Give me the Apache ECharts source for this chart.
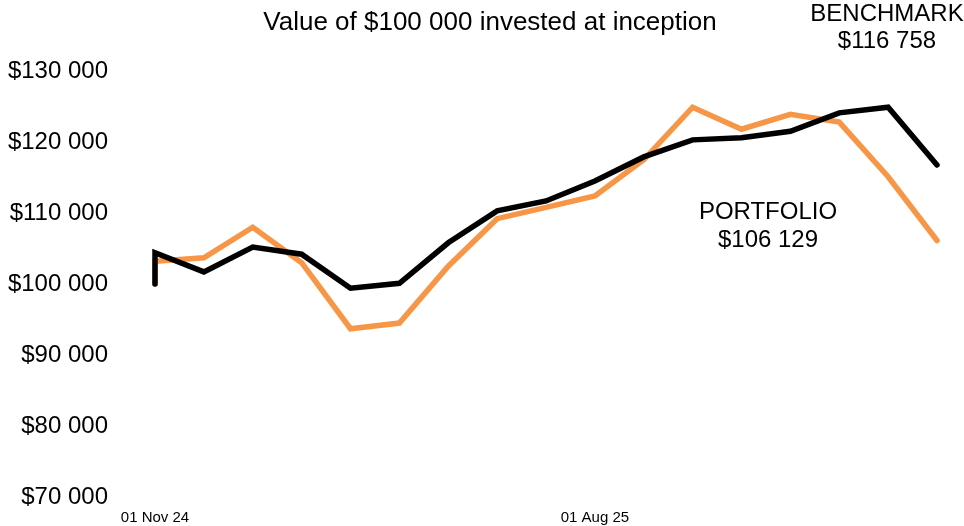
<!DOCTYPE html>
<html>
<head>
<meta charset="utf-8">
<script src="https://cdn.jsdelivr.net/npm/echarts@6/dist/echarts.min.js"></script>
<style>html,body{margin:0;padding:0;background:#fff;}#c{width:964px;height:526px;}</style>
</head>
<body>
<div id="c"></div>
<script>
// Month-start dates (index 0 = 01 Nov 24 ... index 16 = 01 Mar 26)
var months = ['01 Nov 24','01 Dec 24','01 Jan 25','01 Feb 25','01 Mar 25','01 Apr 25','01 May 25','01 Jun 25','01 Jul 25','01 Aug 25','01 Sep 25','01 Oct 25','01 Nov 25','01 Dec 25','01 Jan 26','01 Feb 26','01 Mar 26'];
var tickLabelIndex = [0, 9];
var inceptionValue = 100000;
var portfolio = [103200,103700,108000,103000,93700,94500,102500,109200,110800,112400,117500,124900,121800,123900,122800,115100,106129];
var benchmark = [104400,101700,105200,104200,99400,100100,105800,110300,111700,114500,117900,120300,120600,121500,124100,124900,116758];
var yTicks = [70000, 80000, 90000, 100000, 110000, 120000, 130000];

function fmtMoney(v){
  var s = String(Math.round(v));
  return '$' + s.replace(/\B(?=(\d{3})+(?!\d))/g, ' ');
}
function toPts(arr){
  var pts = [[0, inceptionValue]];
  for (var i = 0; i < arr.length; i++) pts.push([i, arr[i]]);
  return pts;
}
var font = 'Liberation Sans, Arial, sans-serif';
var chart = echarts.init(document.getElementById('c'), null, {renderer:'canvas'});
chart.setOption({
  animation: false,
  backgroundColor: '#ffffff',
  grid: {left: 155, right: 27, top: 71, bottom: 29, containLabel: false},
  xAxis: {
    type: 'value', min: 0, max: months.length - 1,
    axisLine: {show: false}, axisTick: {show: false}, splitLine: {show: false},
    axisLabel: {
      customValues: tickLabelIndex,
      formatter: function(v){ return months[v]; },
      fontFamily: font, fontSize: 15, color: '#000', margin: 13
    }
  },
  yAxis: {
    type: 'value', min: yTicks[0], max: yTicks[yTicks.length-1], interval: 10000,
    axisLine: {show: false}, axisTick: {show: false}, splitLine: {show: false},
    axisLabel: {formatter: fmtMoney, fontFamily: font, fontSize: 24, color: '#000', margin: 47}
  },
  series: [
    {name: 'PORTFOLIO', type: 'line', data: toPts(portfolio), symbol: 'none',
     lineStyle: {color: '#F79646', width: 5.5, cap: 'round', join: 'miter'}},
    {name: 'BENCHMARK', type: 'line', data: toPts(benchmark), symbol: 'none',
     lineStyle: {color: '#000000', width: 5.5, cap: 'round', join: 'miter'}}
  ],
  graphic: [
    {type: 'text', x: 490, y: 23, style: {text: 'Value of $100 000 invested at inception', font: '26px ' + font, fill: '#000', align: 'center', verticalAlign: 'middle'}},
    {type: 'text', x: 887, y: 28, style: {text: 'BENCHMARK\n' + fmtMoney(benchmark[benchmark.length-1]), font: '24px ' + font, fill: '#000', align: 'center', verticalAlign: 'middle', lineHeight: 27}},
    {type: 'text', x: 768, y: 226, style: {text: 'PORTFOLIO\n' + fmtMoney(portfolio[portfolio.length-1]), font: '24px ' + font, fill: '#000', align: 'center', verticalAlign: 'middle', lineHeight: 28}}
  ]
});
</script>
</body>
</html>
